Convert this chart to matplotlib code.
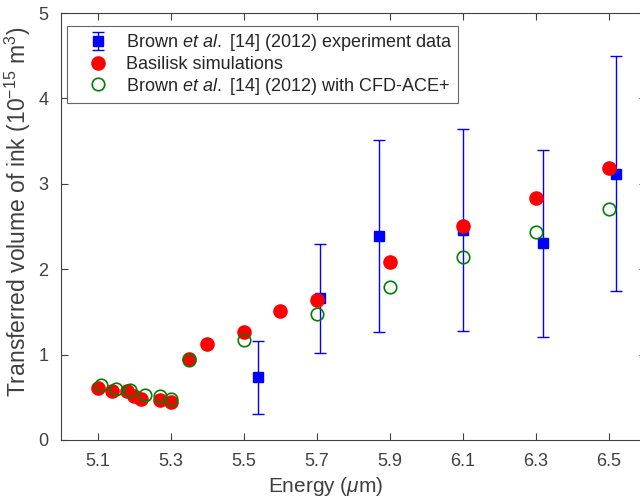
import numpy as np
import matplotlib
matplotlib.use("Agg")
import matplotlib.pyplot as plt

# Brown et al. experiment data (with error bars)
exp_x = [5.54, 5.71, 5.87, 6.10, 6.32, 6.52]
exp_y = [0.74, 1.66, 2.39, 2.46, 2.31, 3.12]
exp_lo = [0.30, 1.02, 1.27, 1.28, 1.21, 1.74]
exp_hi = [1.16, 2.30, 3.51, 3.64, 3.40, 4.50]

# Basilisk simulations
bas_x = [5.10, 5.14, 5.18, 5.20, 5.22, 5.27, 5.30, 5.35, 5.40, 5.50, 5.60, 5.70, 5.90, 6.10, 6.30, 6.50]
bas_y = [0.61, 0.57, 0.57, 0.51, 0.48, 0.47, 0.45, 0.95, 1.12, 1.26, 1.51, 1.64, 2.08, 2.51, 2.83, 3.19]

# Brown et al. with CFD-ACE+
cfd_x = [5.11, 5.15, 5.19, 5.23, 5.27, 5.30, 5.35, 5.50, 5.70, 5.90, 6.10, 6.30, 6.50]
cfd_y = [0.64, 0.60, 0.58, 0.53, 0.51, 0.48, 0.94, 1.17, 1.48, 1.79, 2.14, 2.44, 2.71]

xticks = [5.1, 5.3, 5.5, 5.7, 5.9, 6.1, 6.3, 6.5]
yticks = [0, 1, 2, 3, 4, 5]

plt.rcParams['font.family'] = ['Liberation Sans', 'DejaVu Sans']
plt.rcParams['mathtext.fontset'] = 'custom'
plt.rcParams['mathtext.rm'] = 'Liberation Sans'
plt.rcParams['mathtext.it'] = 'Liberation Sans:italic'

gray = '0.25'

fig = plt.figure(figsize=(6.4, 5.04), dpi=100)
ax = fig.add_axes([61 / 640, 1 - 440 / 504, 584.5 / 640, 427 / 504])

exp_y_arr = np.array(exp_y)
yerr = [exp_y_arr - np.array(exp_lo), np.array(exp_hi) - exp_y_arr]
h_exp = ax.errorbar(exp_x, exp_y, yerr=yerr, fmt='s', color='blue', ecolor='blue',
                    markersize=7, elinewidth=1, capsize=4, capthick=1, zorder=2)
h_bas, = ax.plot(bas_x, bas_y, 'o', color='red', markersize=9.5, linestyle='none', zorder=3)
h_cfd, = ax.plot(cfd_x, cfd_y, 'o', markerfacecolor='none', markeredgecolor='green',
                 markeredgewidth=1.2, markersize=9, linestyle='none', zorder=4)

ax.set_xlim(5.0, 6.6)
ax.set_ylim(0, 5)
ax.set_xticks(xticks)
ax.set_xticklabels([f'{t:.1f}' for t in xticks])
ax.set_yticks(yticks)

for s in ax.spines.values():
    s.set_color(gray)
    s.set_linewidth(0.8)
ax.tick_params(direction='in', length=5, width=0.8, color=gray, labelcolor=gray,
               labelsize=13, top=True, right=True, pad=9)

ax.set_xlabel(r'Energy ($\mu$m)', fontsize=15, color=gray)
ax.set_ylabel(r'Transferred volume of ink ($10^{-15}$ m$^3$)', fontsize=16.5, color=gray)
ax.xaxis.set_label_coords(0.453, -0.082)
ax.yaxis.set_label_coords(-0.048, 0.534)

labels = [r'Brown $\mathit{et\ al.}$ [14] (2012) experiment data',
          'Basilisk simulations',
          r'Brown $\mathit{et\ al.}$ [14] (2012) with CFD-ACE+']
leg = ax.legend([h_exp, h_bas, h_cfd], labels, loc='upper left',
                bbox_to_anchor=(0.0103, 0.9696), borderaxespad=0,
                fontsize=13, frameon=True, fancybox=False, handlelength=2.7,
                handletextpad=0.2, labelspacing=0.15, borderpad=0.35)
leg.get_frame().set_edgecolor(gray)
leg.get_frame().set_linewidth(0.8)
for t in leg.get_texts():
    t.set_color('0.15')

fig.savefig('out.png', dpi=100)
